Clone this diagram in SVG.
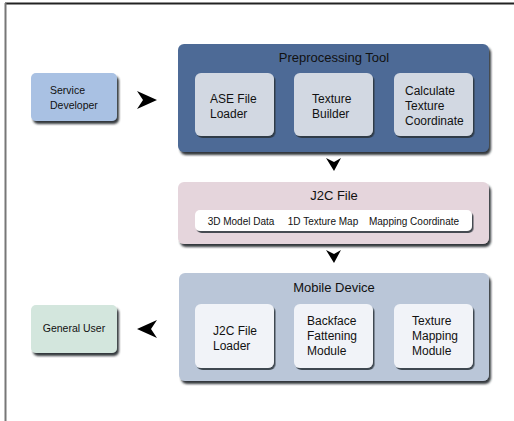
<svg xmlns="http://www.w3.org/2000/svg" width="514" height="421" viewBox="0 0 514 421">
<defs>
<filter id="sh" x="-10%" y="-10%" width="125%" height="130%">
<feDropShadow dx="2" dy="3" stdDeviation="0.8" flood-color="#1c232c" flood-opacity="0.9"/>
</filter>
<filter id="shs" x="-10%" y="-10%" width="125%" height="130%">
<feDropShadow dx="1.5" dy="2" stdDeviation="0.7" flood-color="#2a3038" flood-opacity="0.85"/>
</filter>
</defs>
<style>
text{font-family:"Liberation Sans",Arial,sans-serif;fill:#111}
.title{font-size:13px;text-anchor:middle}
.inner{font-size:12px}
.small{font-size:10.5px}
.c{text-anchor:middle}
.tiny{font-size:10px;text-anchor:middle}
.arrow{fill:#000}
</style>
<rect x="0" y="0" width="514" height="421" fill="#fff"/>
<line x1="5" y1="3.5" x2="514" y2="3.5" stroke="#222" stroke-width="2"/>
<line x1="5.5" y1="3" x2="5.5" y2="421" stroke="#777" stroke-width="2"/>

<g id="service-developer">
<rect x="31" y="73" width="86" height="48" rx="5" fill="#a9c1e3" filter="url(#sh)"/>
<text class="small" x="50" y="94">Service</text>
<text class="small" x="50" y="109">Developer</text>
</g>

<g id="preprocessing-tool">
<rect x="178" y="44" width="311" height="108" rx="6" fill="#4d6b96" filter="url(#sh)"/>
<text class="title" x="334" y="62">Preprocessing Tool</text>
<g id="ase-file-loader">
<rect x="195" y="73" width="79" height="63" rx="6" fill="#d2d8e2" filter="url(#shs)"/>
<text class="inner" x="210" y="103">ASE File</text>
<text class="inner" x="210" y="118">Loader</text>
</g>
<g id="texture-builder">
<rect x="294" y="73" width="79" height="63" rx="6" fill="#d2d8e2" filter="url(#shs)"/>
<text class="inner" x="312" y="103">Texture</text>
<text class="inner" x="312" y="118">Builder</text>
</g>
<g id="calculate-texture-coordinate">
<rect x="394" y="73" width="79" height="63" rx="6" fill="#d2d8e2" filter="url(#shs)"/>
<text class="inner" x="405" y="95">Calculate</text>
<text class="inner" x="405" y="110">Texture</text>
<text class="inner" x="405" y="125">Coordinate</text>
</g>
</g>

<g id="j2c-file">
<rect x="178" y="182" width="311" height="62" rx="6" fill="#e5d5dc" filter="url(#sh)"/>
<text class="title" x="334" y="200">J2C File</text>
<rect x="195" y="210" width="277" height="21" rx="5" fill="#ffffff" filter="url(#shs)"/>
<text class="tiny" x="241" y="225">3D Model Data</text>
<text class="tiny" x="323" y="225">1D Texture Map</text>
<text class="tiny" x="414" y="225">Mapping Coordinate</text>
</g>

<g id="mobile-device">
<rect x="179" y="273" width="310" height="108" rx="6" fill="#bac6d8" filter="url(#sh)"/>
<text class="title" x="334" y="292">Mobile Device</text>
<g id="j2c-file-loader">
<rect x="195" y="304" width="79" height="64" rx="6" fill="#f1f3f8" filter="url(#shs)"/>
<text class="inner" x="213" y="335">J2C File</text>
<text class="inner" x="213" y="350">Loader</text>
</g>
<g id="backface-fattening-module">
<rect x="294" y="304" width="79" height="64" rx="6" fill="#f1f3f8" filter="url(#shs)"/>
<text class="inner" x="307" y="325">Backface</text>
<text class="inner" x="307" y="340">Fattening</text>
<text class="inner" x="307" y="355">Module</text>
</g>
<g id="texture-mapping-module">
<rect x="394" y="304" width="79" height="64" rx="6" fill="#f1f3f8" filter="url(#shs)"/>
<text class="inner" x="412" y="325">Texture</text>
<text class="inner" x="412" y="340">Mapping</text>
<text class="inner" x="412" y="355">Module</text>
</g>
</g>

<g id="general-user">
<rect x="31" y="305" width="86" height="48" rx="5" fill="#d3e6dd" filter="url(#sh)"/>
<text class="small c" x="74" y="332">General User</text>
</g>

<g id="connectors">
<path class="arrow" d="M157,100 L137,91 L143,100 L137,109 Z"/>
<path class="arrow" d="M334,171 L326,158 L334,162 L341,158 Z"/>
<path class="arrow" d="M334,263 L326,250 L334,254 L341,250 Z"/>
<path class="arrow" d="M137,329 L157,320 L151,329 L157,338 Z"/>
</g>
</svg>
